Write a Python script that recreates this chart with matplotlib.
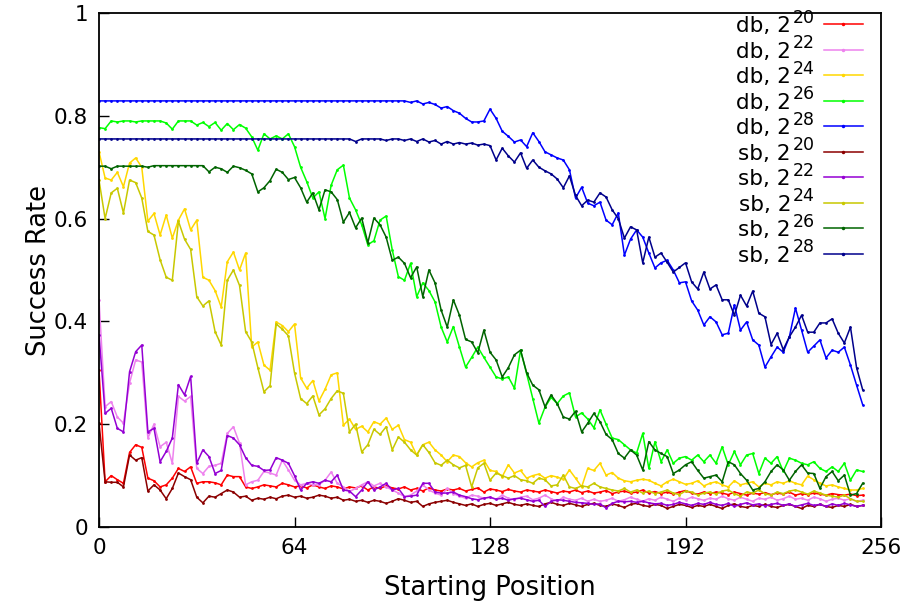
import numpy as np
import matplotlib
matplotlib.use('Agg')
import matplotlib.pyplot as plt

# values, one value every 2 starting positions (0..250)
db20 = [0.305, 0.088, 0.100, 0.092, 0.085, 0.145, 0.160, 0.155, 0.095, 0.090,
        0.078, 0.082, 0.095, 0.114, 0.108, 0.117, 0.085, 0.088, 0.088, 0.086,
        0.082, 0.101, 0.098, 0.098, 0.078, 0.075, 0.078, 0.082, 0.080, 0.078,
        0.085, 0.082, 0.078, 0.080, 0.076, 0.082, 0.078, 0.075, 0.080, 0.078,
        0.074, 0.078, 0.076, 0.080, 0.072, 0.078, 0.075, 0.080, 0.076, 0.074,
        0.078, 0.072, 0.075, 0.070, 0.076, 0.072, 0.070, 0.074, 0.072, 0.075,
        0.070, 0.073, 0.076, 0.068, 0.074, 0.072, 0.069, 0.073, 0.070, 0.068,
        0.072, 0.070, 0.068, 0.072, 0.069, 0.066, 0.070, 0.068, 0.072, 0.067,
        0.070, 0.066, 0.068, 0.071, 0.065, 0.068, 0.070, 0.066, 0.068, 0.072,
        0.066, 0.069, 0.065, 0.068, 0.064, 0.068, 0.071, 0.066, 0.064, 0.068,
        0.065, 0.068, 0.066, 0.063, 0.068, 0.065, 0.062, 0.066, 0.064, 0.067,
        0.063, 0.066, 0.064, 0.068, 0.062, 0.065, 0.063, 0.066, 0.064, 0.062,
        0.065, 0.063, 0.062, 0.064, 0.061, 0.062]

db22 = [0.442, 0.234, 0.244, 0.214, 0.202, 0.280, 0.325, 0.321, 0.173, 0.200,
        0.156, 0.165, 0.124, 0.254, 0.245, 0.254, 0.114, 0.104, 0.118, 0.120,
        0.124, 0.182, 0.195, 0.163, 0.082, 0.088, 0.091, 0.108, 0.105, 0.101,
        0.130, 0.111, 0.091, 0.082, 0.085, 0.082, 0.082, 0.091, 0.107, 0.085,
        0.078, 0.069, 0.075, 0.082, 0.088, 0.080, 0.085, 0.078, 0.072, 0.066,
        0.059, 0.062, 0.070, 0.082, 0.072, 0.066, 0.062, 0.075, 0.065, 0.060,
        0.056, 0.062, 0.060, 0.056, 0.058, 0.054, 0.062, 0.056, 0.053, 0.058,
        0.060, 0.053, 0.056, 0.062, 0.055, 0.050, 0.058, 0.054, 0.052, 0.056,
        0.050, 0.054, 0.050, 0.052, 0.056, 0.050, 0.053, 0.058, 0.054, 0.050,
        0.055, 0.052, 0.058, 0.054, 0.050, 0.056, 0.053, 0.058, 0.055, 0.052,
        0.056, 0.054, 0.060, 0.055, 0.052, 0.058, 0.054, 0.050, 0.056, 0.054,
        0.058, 0.052, 0.055, 0.060, 0.054, 0.056, 0.052, 0.058, 0.055, 0.050,
        0.054, 0.056, 0.052, 0.055, 0.050, 0.052]

db24 = [0.730, 0.679, 0.675, 0.690, 0.662, 0.708, 0.718, 0.700, 0.595, 0.610,
        0.568, 0.607, 0.562, 0.597, 0.619, 0.578, 0.597, 0.486, 0.480, 0.460,
        0.428, 0.516, 0.535, 0.500, 0.533, 0.350, 0.360, 0.315, 0.305, 0.399,
        0.392, 0.380, 0.395, 0.290, 0.270, 0.285, 0.245, 0.268, 0.296, 0.300,
        0.198, 0.210, 0.190, 0.196, 0.185, 0.205, 0.200, 0.212, 0.190, 0.198,
        0.170, 0.165, 0.140, 0.160, 0.165, 0.150, 0.140, 0.127, 0.140, 0.137,
        0.125, 0.117, 0.125, 0.130, 0.110, 0.108, 0.098, 0.121, 0.105, 0.110,
        0.095, 0.100, 0.103, 0.095, 0.100, 0.097, 0.093, 0.111, 0.095, 0.078,
        0.114, 0.110, 0.124, 0.101, 0.106, 0.095, 0.090, 0.088, 0.091, 0.093,
        0.091, 0.085, 0.080, 0.088, 0.093, 0.088, 0.083, 0.085, 0.090, 0.080,
        0.085, 0.088, 0.082, 0.078, 0.090, 0.082, 0.085, 0.088, 0.078, 0.085,
        0.082, 0.088, 0.085, 0.090, 0.085, 0.082, 0.099, 0.092, 0.085, 0.080,
        0.082, 0.078, 0.075, 0.072, 0.072, 0.075]

db26 = [0.777, 0.775, 0.790, 0.788, 0.790, 0.790, 0.788, 0.790, 0.790, 0.790,
        0.790, 0.786, 0.774, 0.790, 0.790, 0.790, 0.782, 0.787, 0.779, 0.787,
        0.772, 0.785, 0.773, 0.783, 0.776, 0.759, 0.733, 0.765, 0.755, 0.761,
        0.755, 0.765, 0.740, 0.700, 0.672, 0.640, 0.652, 0.600, 0.665, 0.695,
        0.704, 0.640, 0.617, 0.588, 0.549, 0.557, 0.597, 0.605, 0.539, 0.487,
        0.480, 0.513, 0.448, 0.475, 0.460, 0.438, 0.389, 0.360, 0.390, 0.350,
        0.311, 0.330, 0.350, 0.330, 0.311, 0.292, 0.288, 0.292, 0.270, 0.344,
        0.298, 0.250, 0.202, 0.233, 0.252, 0.240, 0.255, 0.261, 0.214, 0.222,
        0.210, 0.193, 0.228, 0.200, 0.173, 0.170, 0.160, 0.150, 0.144, 0.182,
        0.114, 0.166, 0.127, 0.150, 0.124, 0.134, 0.137, 0.130, 0.140, 0.127,
        0.140, 0.124, 0.156, 0.121, 0.147, 0.121, 0.140, 0.143, 0.104, 0.134,
        0.124, 0.137, 0.108, 0.134, 0.130, 0.124, 0.121, 0.127, 0.114, 0.108,
        0.117, 0.108, 0.124, 0.091, 0.111, 0.108]

db28 = [0.829, 0.829, 0.829, 0.829, 0.829, 0.829, 0.829, 0.829, 0.829, 0.829,
        0.829, 0.829, 0.829, 0.829, 0.829, 0.829, 0.829, 0.829, 0.829, 0.829,
        0.829, 0.829, 0.829, 0.829, 0.829, 0.829, 0.829, 0.829, 0.829, 0.829,
        0.829, 0.829, 0.829, 0.829, 0.829, 0.829, 0.829, 0.829, 0.829, 0.829,
        0.829, 0.829, 0.829, 0.829, 0.829, 0.829, 0.829, 0.829, 0.829, 0.829,
        0.829, 0.826, 0.829, 0.823, 0.826, 0.822, 0.815, 0.818, 0.810, 0.805,
        0.795, 0.788, 0.788, 0.790, 0.813, 0.795, 0.770, 0.760, 0.749, 0.753,
        0.740, 0.767, 0.750, 0.730, 0.724, 0.718, 0.714, 0.695, 0.640, 0.661,
        0.630, 0.625, 0.632, 0.597, 0.588, 0.611, 0.529, 0.560, 0.578, 0.564,
        0.533, 0.504, 0.514, 0.519, 0.500, 0.475, 0.477, 0.440, 0.422, 0.393,
        0.409, 0.399, 0.374, 0.377, 0.432, 0.383, 0.399, 0.364, 0.354, 0.311,
        0.331, 0.350, 0.340, 0.370, 0.426, 0.383, 0.340, 0.352, 0.364, 0.329,
        0.344, 0.340, 0.350, 0.315, 0.276, 0.238]

sb20 = [0.202, 0.088, 0.087, 0.087, 0.078, 0.140, 0.130, 0.135, 0.070, 0.082,
        0.072, 0.055, 0.075, 0.105, 0.098, 0.092, 0.058, 0.047, 0.060, 0.058,
        0.065, 0.072, 0.068, 0.058, 0.060, 0.052, 0.056, 0.054, 0.058, 0.055,
        0.060, 0.062, 0.058, 0.060, 0.056, 0.058, 0.062, 0.060, 0.056, 0.058,
        0.052, 0.054, 0.050, 0.052, 0.048, 0.052, 0.050, 0.046, 0.050, 0.055,
        0.052, 0.048, 0.050, 0.040, 0.045, 0.048, 0.050, 0.052, 0.048, 0.045,
        0.042, 0.045, 0.040, 0.044, 0.046, 0.042, 0.045, 0.048, 0.044, 0.042,
        0.045, 0.042, 0.040, 0.045, 0.048, 0.044, 0.042, 0.046, 0.043, 0.040,
        0.044, 0.046, 0.042, 0.040, 0.045, 0.042, 0.038, 0.044, 0.046, 0.042,
        0.040, 0.044, 0.042, 0.036, 0.040, 0.044, 0.042, 0.038, 0.042, 0.040,
        0.044, 0.040, 0.036, 0.042, 0.045, 0.040, 0.038, 0.042, 0.040, 0.044,
        0.040, 0.038, 0.042, 0.044, 0.040, 0.036, 0.042, 0.040, 0.044, 0.040,
        0.038, 0.042, 0.040, 0.044, 0.040, 0.042]

sb22 = [0.374, 0.221, 0.231, 0.192, 0.185, 0.302, 0.341, 0.354, 0.185, 0.192,
        0.127, 0.147, 0.173, 0.277, 0.257, 0.293, 0.124, 0.150, 0.137, 0.104,
        0.110, 0.178, 0.173, 0.160, 0.135, 0.120, 0.118, 0.110, 0.111, 0.135,
        0.130, 0.124, 0.100, 0.072, 0.085, 0.088, 0.085, 0.091, 0.088, 0.101,
        0.072, 0.070, 0.059, 0.072, 0.088, 0.072, 0.078, 0.085, 0.072, 0.075,
        0.059, 0.060, 0.062, 0.085, 0.085, 0.068, 0.066, 0.066, 0.068, 0.062,
        0.059, 0.055, 0.053, 0.056, 0.058, 0.054, 0.056, 0.052, 0.055, 0.056,
        0.053, 0.050, 0.052, 0.040, 0.050, 0.053, 0.052, 0.050, 0.048, 0.047,
        0.046, 0.044, 0.045, 0.037, 0.046, 0.050, 0.049, 0.050, 0.048, 0.050,
        0.047, 0.045, 0.046, 0.042, 0.044, 0.048, 0.045, 0.042, 0.046, 0.044,
        0.048, 0.044, 0.042, 0.046, 0.040, 0.044, 0.047, 0.043, 0.045, 0.041,
        0.044, 0.046, 0.042, 0.045, 0.040, 0.043, 0.046, 0.042, 0.044, 0.040,
        0.045, 0.042, 0.046, 0.043, 0.040, 0.042]

sb24 = [0.675, 0.600, 0.650, 0.659, 0.611, 0.675, 0.670, 0.640, 0.575, 0.568,
        0.520, 0.486, 0.480, 0.595, 0.560, 0.540, 0.448, 0.430, 0.440, 0.380,
        0.354, 0.480, 0.500, 0.470, 0.380, 0.360, 0.310, 0.263, 0.275, 0.395,
        0.385, 0.372, 0.300, 0.250, 0.240, 0.255, 0.218, 0.230, 0.250, 0.265,
        0.260, 0.185, 0.200, 0.146, 0.160, 0.190, 0.180, 0.195, 0.150, 0.175,
        0.165, 0.150, 0.140, 0.160, 0.145, 0.125, 0.120, 0.130, 0.121, 0.115,
        0.120, 0.078, 0.115, 0.124, 0.091, 0.105, 0.100, 0.095, 0.100, 0.092,
        0.090, 0.085, 0.095, 0.092, 0.080, 0.082, 0.101, 0.078, 0.075, 0.080,
        0.078, 0.085, 0.078, 0.075, 0.072, 0.070, 0.075, 0.068, 0.072, 0.066,
        0.070, 0.065, 0.068, 0.072, 0.066, 0.063, 0.070, 0.068, 0.062, 0.066,
        0.068, 0.064, 0.070, 0.072, 0.065, 0.060, 0.068, 0.066, 0.072, 0.065,
        0.062, 0.068, 0.065, 0.070, 0.072, 0.068, 0.064, 0.070, 0.066, 0.062,
        0.060, 0.058, 0.062, 0.055, 0.050, 0.050]

sb26 = [0.702, 0.702, 0.697, 0.702, 0.702, 0.702, 0.702, 0.702, 0.700, 0.703,
        0.703, 0.703, 0.703, 0.703, 0.703, 0.703, 0.703, 0.703, 0.691, 0.700,
        0.697, 0.690, 0.702, 0.699, 0.694, 0.687, 0.652, 0.660, 0.674, 0.696,
        0.690, 0.676, 0.680, 0.660, 0.632, 0.650, 0.617, 0.656, 0.652, 0.637,
        0.593, 0.612, 0.582, 0.601, 0.553, 0.601, 0.588, 0.564, 0.519, 0.525,
        0.513, 0.485, 0.506, 0.448, 0.500, 0.475, 0.422, 0.389, 0.442, 0.412,
        0.365, 0.360, 0.339, 0.383, 0.340, 0.325, 0.292, 0.310, 0.335, 0.344,
        0.300, 0.276, 0.267, 0.234, 0.257, 0.240, 0.214, 0.210, 0.225, 0.185,
        0.202, 0.221, 0.205, 0.180, 0.170, 0.143, 0.134, 0.150, 0.140, 0.111,
        0.166, 0.150, 0.143, 0.137, 0.104, 0.111, 0.121, 0.127, 0.110, 0.095,
        0.098, 0.101, 0.088, 0.127, 0.121, 0.104, 0.091, 0.072, 0.075, 0.088,
        0.108, 0.121, 0.111, 0.091, 0.108, 0.121, 0.105, 0.104, 0.075, 0.098,
        0.108, 0.090, 0.101, 0.062, 0.065, 0.085]

sb28 = [0.755, 0.755, 0.755, 0.755, 0.755, 0.755, 0.755, 0.755, 0.755, 0.755,
        0.755, 0.755, 0.755, 0.755, 0.755, 0.755, 0.755, 0.755, 0.755, 0.755,
        0.755, 0.755, 0.755, 0.755, 0.755, 0.755, 0.755, 0.755, 0.755, 0.755,
        0.755, 0.755, 0.755, 0.755, 0.755, 0.755, 0.755, 0.755, 0.755, 0.755,
        0.755, 0.755, 0.750, 0.755, 0.755, 0.755, 0.755, 0.752, 0.755, 0.755,
        0.752, 0.755, 0.750, 0.755, 0.749, 0.752, 0.745, 0.750, 0.745, 0.748,
        0.745, 0.747, 0.743, 0.745, 0.742, 0.714, 0.737, 0.722, 0.710, 0.728,
        0.698, 0.714, 0.700, 0.693, 0.687, 0.677, 0.660, 0.683, 0.645, 0.625,
        0.636, 0.632, 0.650, 0.642, 0.617, 0.600, 0.562, 0.584, 0.578, 0.514,
        0.564, 0.525, 0.533, 0.515, 0.496, 0.505, 0.514, 0.477, 0.463, 0.496,
        0.463, 0.471, 0.442, 0.442, 0.412, 0.451, 0.430, 0.459, 0.416, 0.409,
        0.355, 0.377, 0.345, 0.370, 0.389, 0.412, 0.379, 0.379, 0.397, 0.397,
        0.405, 0.377, 0.358, 0.389, 0.310, 0.267]

key_base = ['db, 2', 'db, 2', 'db, 2', 'db, 2', 'db, 2',
            'sb, 2', 'sb, 2', 'sb, 2', 'sb, 2', 'sb, 2']
key_exp = ['20', '22', '24', '26', '28', '20', '22', '24', '26', '28']
series = [db20, db22, db24, db26, db28, sb20, sb22, sb24, sb26, sb28]
colors = ['#ff0000', '#ee82ee', '#ffd700', '#00ff00', '#0000ff',
          '#8b0000', '#9400d3', '#c8c800', '#006400', '#00008b']

xticks = [0, 64, 128, 192, 256]
yticks = [0, 0.2, 0.4, 0.6, 0.8, 1]
ytick_labels = ['0', '0.2', '0.4', '0.6', '0.8', '1']

fig = plt.figure(figsize=(9.08, 6.03), dpi=100)
ax = fig.add_axes([99 / 908, 76 / 603, 782 / 908, 514 / 603])

for vals, c in zip(series, colors):
    x = np.arange(len(vals)) * 2
    ax.plot(x, vals, color=c, lw=1.1, marker='o', ms=2, mew=0)

ax.set_xlim(0, 256)
ax.set_ylim(0, 1)
ax.set_xticks(xticks)
ax.set_yticks(yticks)
ax.set_yticklabels(ytick_labels)
ax.tick_params(direction='in', length=7, width=1, top=False, right=False,
               labelsize=15.5, pad=8)
for s in ax.spines.values():
    s.set_linewidth(1.3)
ax.set_xlabel('Starting Position', fontsize=18.5, labelpad=12)
ax.set_ylabel('Success Rate', fontsize=18.5, labelpad=1)

# gnuplot-style key: right-justified text with a big superscript, line sample on the right
fig.canvas.draw()
r = fig.canvas.get_renderer()
for i, (base, ex, c) in enumerate(zip(key_base, key_exp, colors)):
    yk = (527 - (24 + 25.5 * i)) / 514
    sup = ax.text(0.915, yk + 0.012, ex, transform=ax.transAxes, ha='right',
                  va='center', fontsize=12.5)
    w = sup.get_window_extent(r).width / ax.get_window_extent(r).width
    ax.text(0.915 - w - 0.002, yk - 0.004, base, transform=ax.transAxes, ha='right',
            va='center', fontsize=15.5)
    ax.plot([0.927, 0.977], [yk, yk], transform=ax.transAxes, color=c, lw=1.1)
    ax.plot([0.952], [yk], transform=ax.transAxes, color=c, marker='o', ms=2.5, mew=0)

fig.savefig('out.png', dpi=100)
